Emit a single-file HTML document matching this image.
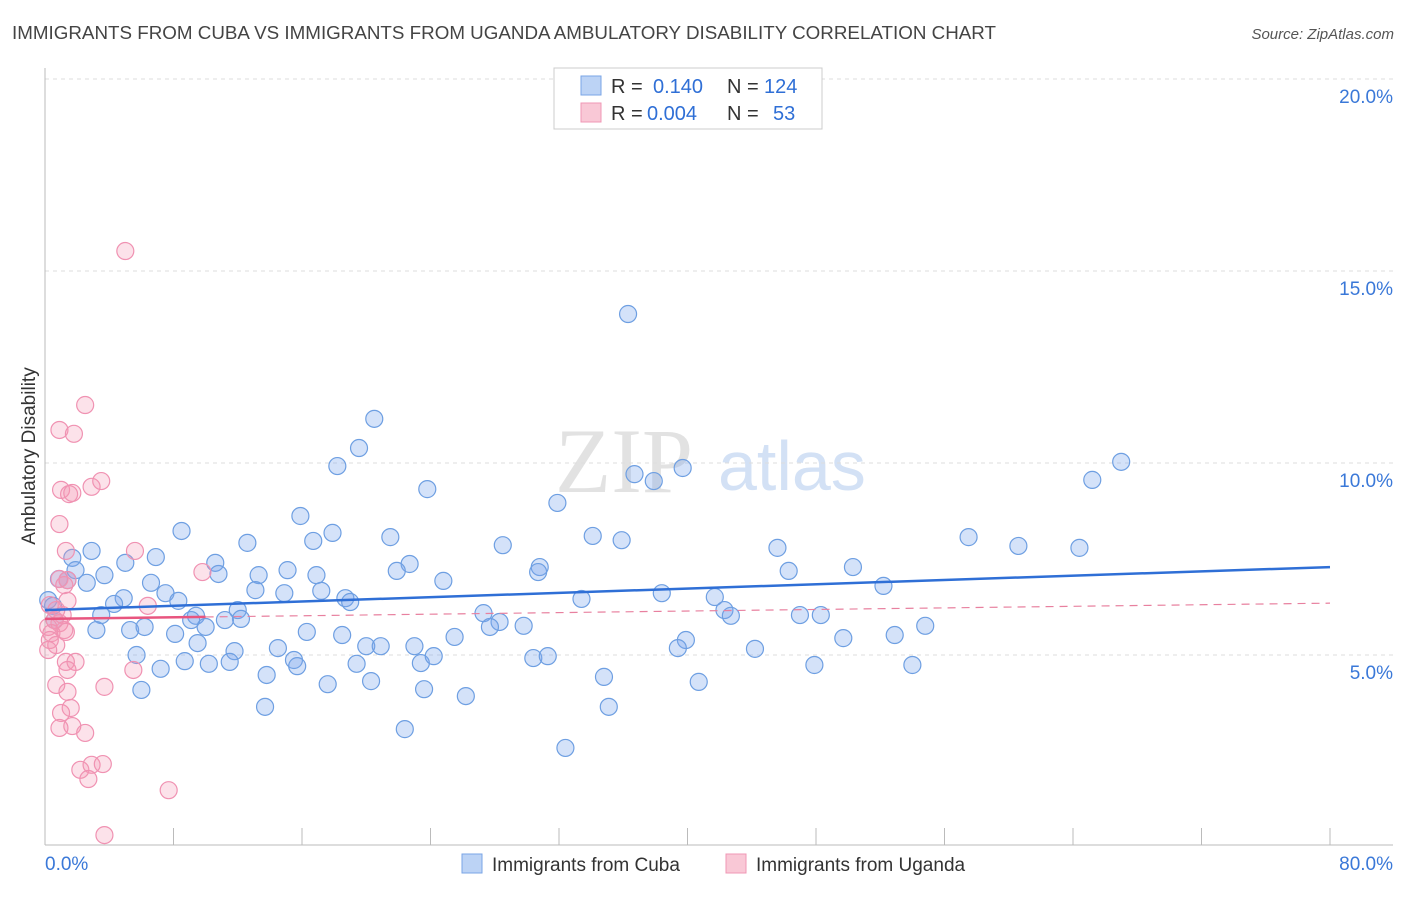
<!DOCTYPE html>
<html><head><meta charset="utf-8"><style>
body{margin:0;background:#fff;font-family:"Liberation Sans",sans-serif;}
</style></head><body>
<svg id="chart" width="1406" height="892" xmlns="http://www.w3.org/2000/svg" font-family="Liberation Sans, sans-serif">
<text x="12" y="39" font-size="18" fill="#444" textLength="984" lengthAdjust="spacingAndGlyphs">IMMIGRANTS FROM CUBA VS IMMIGRANTS FROM UGANDA AMBULATORY DISABILITY CORRELATION CHART</text>
<text x="1394" y="39" font-size="15" fill="#555" font-style="italic" text-anchor="end">Source: ZipAtlas.com</text>
<g>
<text x="555" y="492" font-size="92" fill="#ccc" opacity="0.55" font-family="Liberation Serif, serif">ZIP</text>
<text x="718" y="490" font-size="70" fill="#a8c4ec" opacity="0.5">atlas</text>
</g>
<g id="grid"></g>
<g id="axes"></g>
<g id="pts"></g>
<g id="trend"></g>
<g>
<rect x="554" y="68" width="268" height="61" fill="#fff" stroke="#ccc"/>
<rect x="581" y="76" width="20" height="19" fill="#bcd3f5" stroke="#7aa5e6"/>
<rect x="581" y="103" width="20" height="19" fill="#f9c8d6" stroke="#f097b5"/>
<text x="611" y="93" font-size="20" fill="#333">R = <tspan fill="#2f6fd6" x="653">0.140</tspan><tspan x="727">N = </tspan><tspan fill="#2f6fd6" x="764">124</tspan></text>
<text x="611" y="120" font-size="20" fill="#333">R = <tspan fill="#2f6fd6" x="647">0.004</tspan><tspan x="727">N = </tspan><tspan fill="#2f6fd6" x="773">53</tspan></text>
</g>
<g>
<rect x="462" y="854" width="20" height="19" fill="#bcd3f5" stroke="#7aa5e6"/>
<text x="492" y="871" font-size="19" fill="#333">Immigrants from Cuba</text>
<rect x="726" y="854" width="20" height="19" fill="#f9c8d6" stroke="#f097b5"/>
<text x="756" y="871" font-size="19" fill="#333">Immigrants from Uganda</text>
</g>
<text transform="translate(35,456) rotate(-90)" font-size="19" fill="#333" text-anchor="middle">Ambulatory Disability</text>
<text x="45" y="870" font-size="19" fill="#3a78d8">0.0%</text>
<text x="1393" y="870" font-size="19" fill="#3a78d8" text-anchor="end">80.0%</text>
</svg>
<script>
const cubaX=[36.3,20.5,19.55,18.2,67.0,65.2,36.7,39.7,37.9,23.8,31.9,15.9,8.5,17.9,16.7,21.5,12.6,28.5,34.1,35.9,57.5,60.6,64.4,45.6,2.9,6.9,5.0,22.7,10.6,21.9,30.8,30.7,46.3,50.3,1.7,1.9,3.7,0.87,1.4,2.6,10.8,13.3,15.1,16.9,6.6,24.8,7.5,8.3,4.9,4.3,13.1,14.9,17.2,18.7,19.0,38.4,52.2,41.7,33.4,12.0,9.4,9.1,10.0,12.2,11.2,3.5,0.2,0.5,42.3,42.7,27.3,28.3,27.7,29.8,47.0,48.3,54.8,3.2,5.3,6.2,8.1,16.3,18.5,25.5,39.9,39.4,49.7,52.9,9.5,11.8,14.5,20.0,20.9,23.0,44.2,5.7,8.7,10.2,11.5,15.5,15.7,19.4,23.4,24.2,30.4,31.3,47.9,54.0,7.2,13.8,20.3,17.6,34.8,40.7,6.0,23.6,26.2,13.7,35.1,22.4,32.4,0.6];
const cubaY=[13.88,11.15,10.39,9.92,10.03,9.56,9.71,9.87,9.53,9.32,8.96,8.62,8.23,8.18,7.97,8.07,7.92,7.86,8.1,7.99,8.07,7.84,7.79,7.79,7.71,7.55,7.4,7.37,7.4,7.19,7.29,7.16,7.19,7.29,7.53,7.21,7.08,6.98,6.95,6.88,7.11,7.08,7.21,7.08,6.88,6.93,6.61,6.41,6.48,6.33,6.69,6.61,6.67,6.48,6.38,6.61,6.8,6.51,6.46,6.17,6.02,5.91,5.73,5.94,5.91,6.04,6.43,6.28,6.17,6.02,6.09,5.86,5.73,5.76,6.04,6.04,5.76,5.65,5.65,5.73,5.55,5.6,5.52,5.47,5.39,5.18,5.44,5.52,5.31,5.1,5.18,5.23,5.23,5.23,5.16,5.0,4.84,4.77,4.82,4.87,4.71,4.77,4.79,4.97,4.92,4.97,4.74,4.74,4.64,4.48,4.32,4.24,4.43,4.3,4.09,4.11,3.93,3.65,3.65,3.07,2.58,5.91];
const ugX=[5.0,2.5,0.9,1.8,1.0,2.9,3.5,1.5,1.7,0.9,1.3,5.6,9.8,0.9,1.2,1.4,6.4,1.4,0.3,0.7,1.1,0.6,0.9,0.2,1.2,0.4,0.3,0.7,0.2,1.3,1.9,1.4,5.5,0.7,1.4,3.7,1.6,1.0,1.7,0.9,2.5,2.2,2.9,3.6,2.7,7.7,3.7,1.3];
const ugY=[15.52,11.51,10.86,10.76,9.3,9.38,9.53,9.19,9.22,8.41,7.71,7.71,7.16,6.98,6.82,6.95,6.28,6.41,6.3,6.17,6.04,5.91,5.83,5.73,5.65,5.57,5.39,5.26,5.13,4.82,4.82,4.61,4.61,4.22,4.04,4.17,3.62,3.49,3.15,3.1,2.97,2.01,2.14,2.16,1.77,1.48,0.31,5.6];
const yTicks=[5,10,15,20];
const yTickLabels=["5.0%","10.0%","15.0%","20.0%"];
const xTicks=[0,8,16,24,32,40,48,56,64,72,80];
const cubaTrend=[6.17,7.29];
const ugTrend=[5.94,6.35];
const X=v=>45+v/80*1285, Y=v=>847-v*38.4;
const NS="http://www.w3.org/2000/svg";
function mk(t,a,p){const e=document.createElementNS(NS,t);for(const k in a)e.setAttribute(k,a[k]);p.appendChild(e);return e;}
const grid=document.getElementById('grid'),axes=document.getElementById('axes'),pts=document.getElementById('pts'),tr=document.getElementById('trend');
yTicks.forEach((v,i)=>{
 const l=mk('line',{x1:45,x2:1393,y1:Y(v),y2:Y(v),stroke:'#ddd','stroke-dasharray':'4,4'},grid);
 
 
 const t=mk('text',{x:1393,y:Y(v)+24,'font-size':19,fill:'#3a78d8','text-anchor':'end'},grid);
 t.textContent=yTickLabels[i];
 
 
});
const ya=mk('line',{x1:45,x2:45,y1:68,y2:845,stroke:'#bbb'},axes);


const xa=mk('line',{x1:45,x2:1393,y1:845,y2:845,stroke:'#bbb'},axes);


xTicks.forEach(v=>{
 const l=mk('line',{x1:X(v),x2:X(v),y1:828,y2:845,stroke:'#bbb'},axes);
 
 
});
cubaX.forEach((v,i)=>{
 const c=mk('circle',{cx:X(v),cy:Y(cubaY[i]),r:8.5,fill:'rgba(120,165,235,0.32)',stroke:'#6e9fe2','stroke-width':1.2},pts);
 
 
});
ugX.forEach((v,i)=>{
 const c=mk('circle',{cx:X(v),cy:Y(ugY[i]),r:8.5,fill:'rgba(245,150,180,0.28)',stroke:'#f092b2','stroke-width':1.2},pts);
 
 
});
const bl=mk('line',{x1:X(0),x2:X(80),y1:Y(cubaTrend[0]),y2:Y(cubaTrend[1]),stroke:'#2f6fd6','stroke-width':2.5},tr);


const ugAt=x=>ugTrend[0]+(ugTrend[1]-ugTrend[0])*x/80;
const ps=mk('line',{x1:X(0),x2:X(10),y1:Y(ugAt(0)),y2:Y(ugAt(10)),stroke:'#e8557f','stroke-width':2.5},tr);


const pd=mk('line',{x1:X(10),x2:X(80),y1:Y(ugAt(10)),y2:Y(ugAt(80)),stroke:'#e8809f','stroke-width':1.2,'stroke-dasharray':'8,6'},tr);


</script>
</body></html>
